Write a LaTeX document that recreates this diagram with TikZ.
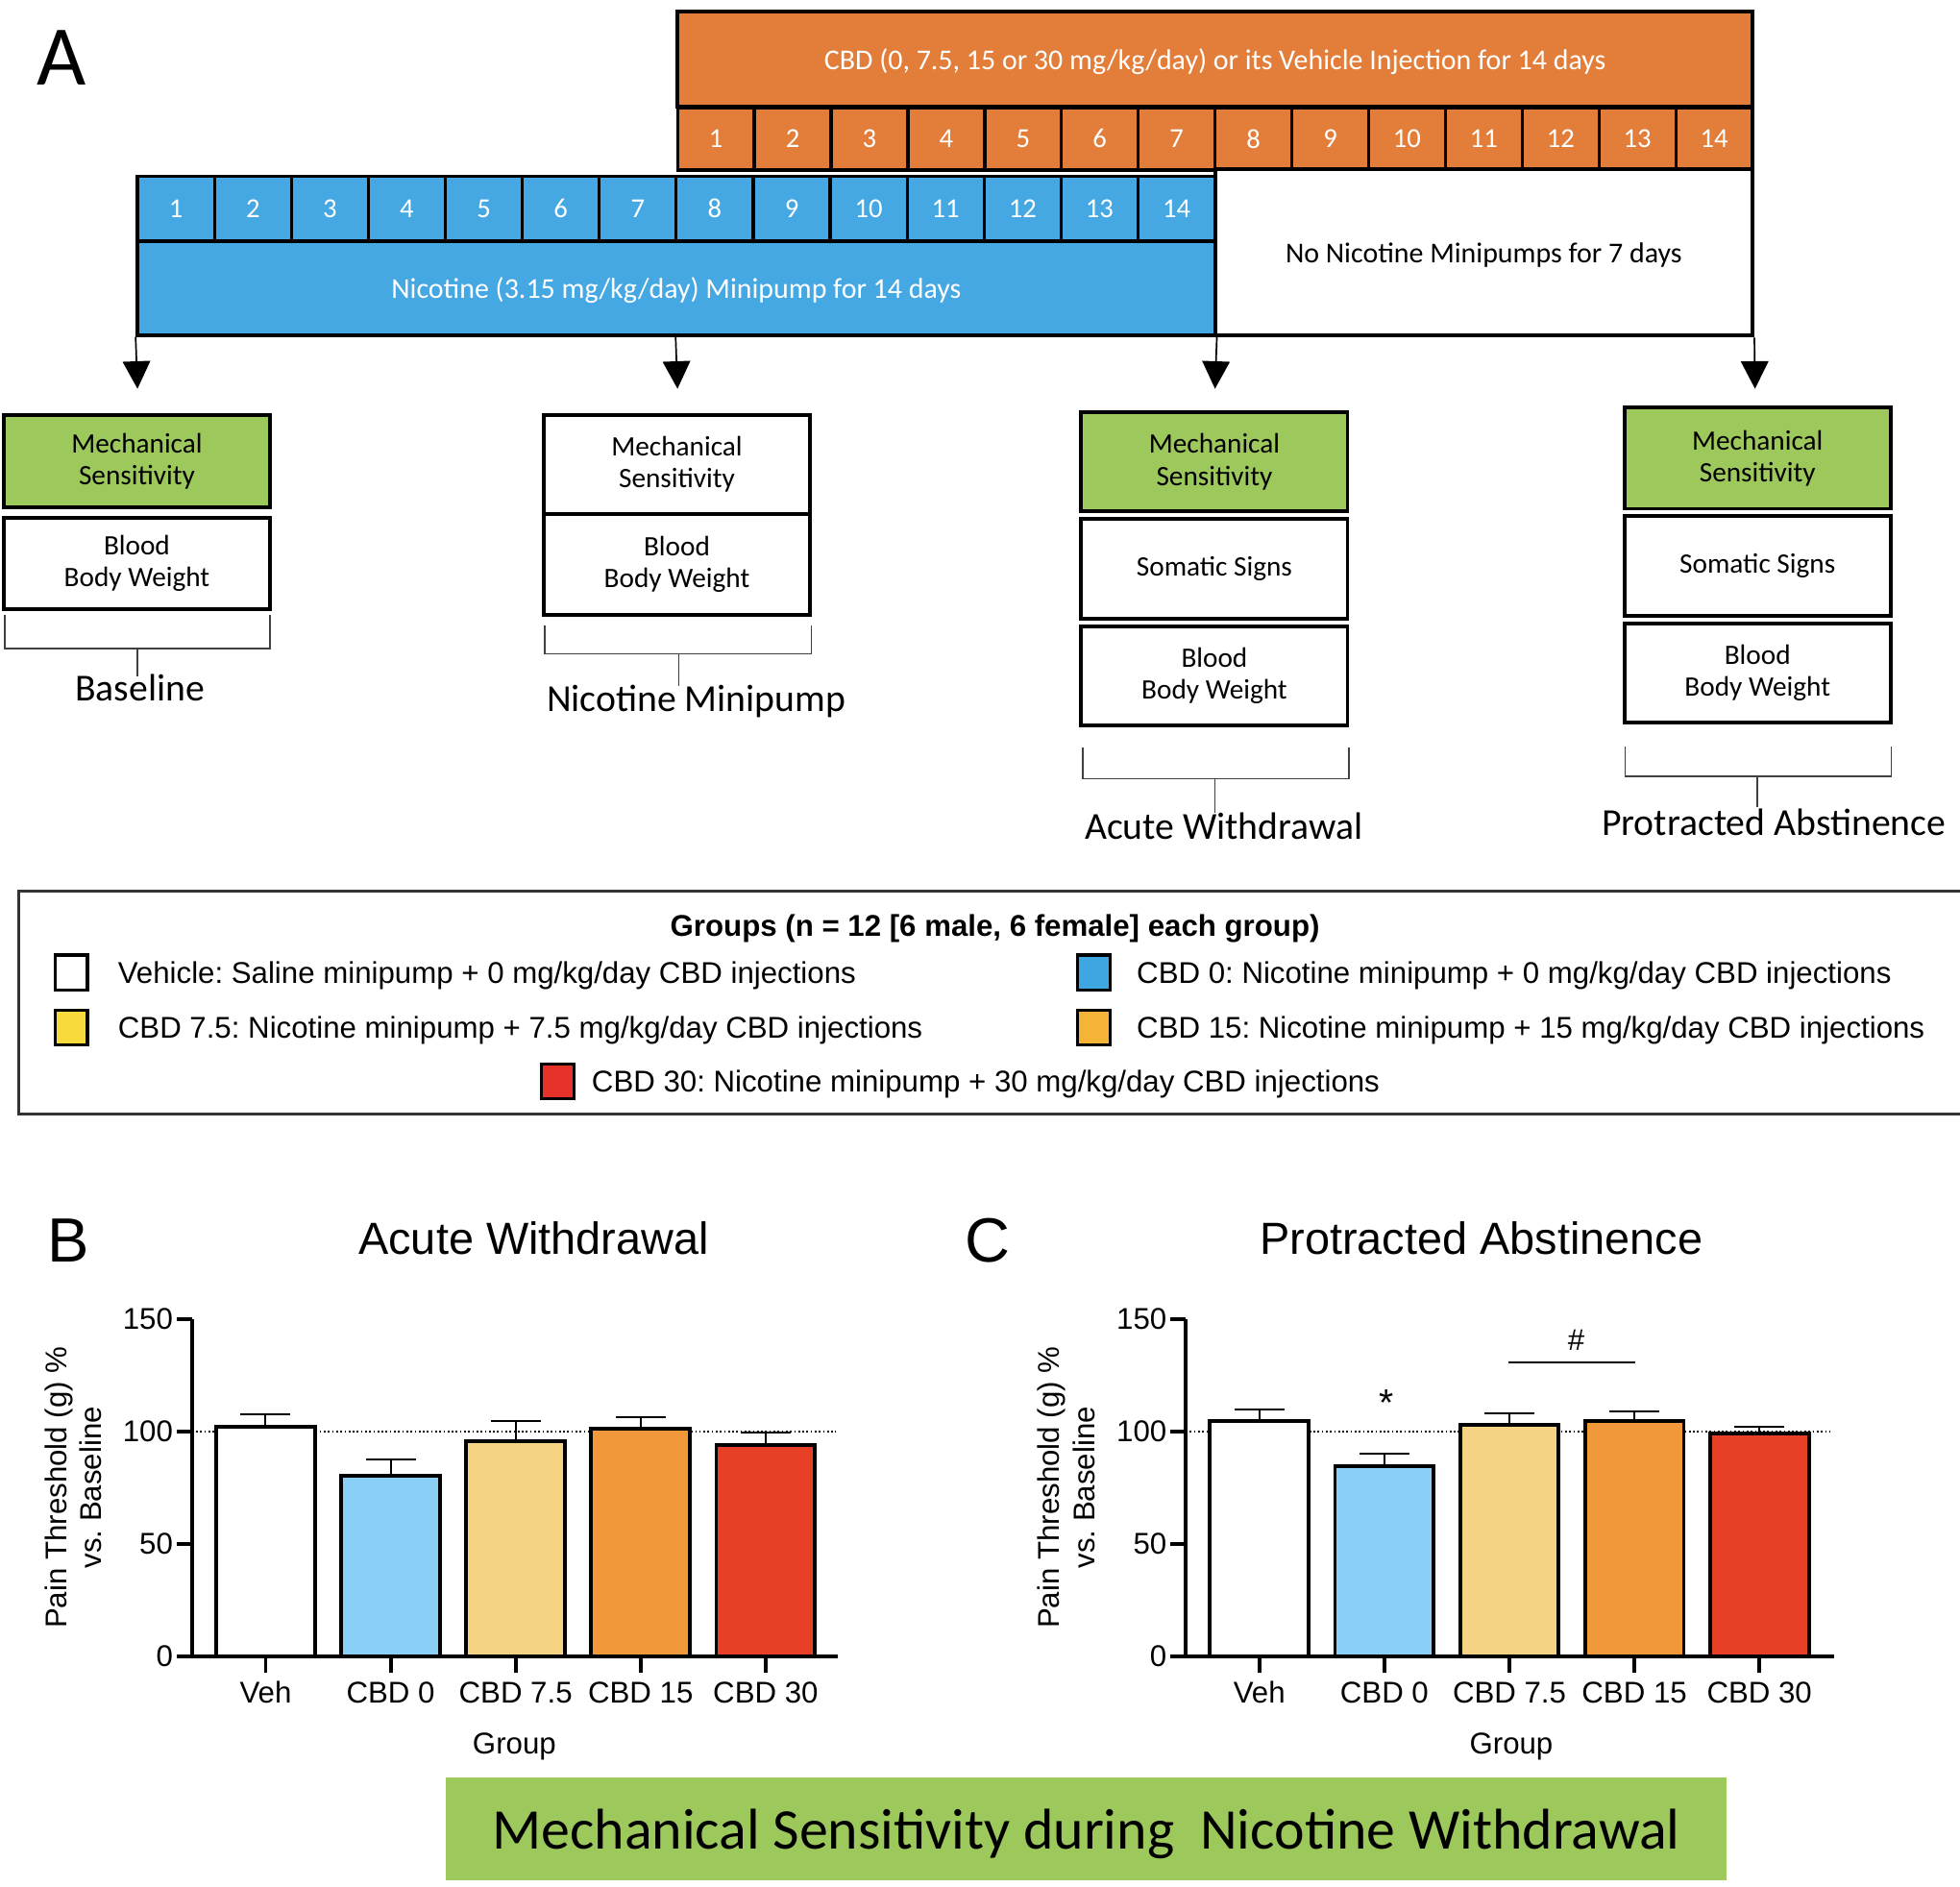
\documentclass[tikz,border=0pt]{standalone}
\usepackage{fontspec}
\setmainfont{Carlito}
\newfontfamily\arialfont{Liberation Sans}
\usetikzlibrary{arrows.meta,positioning}
\frenchspacing
\definecolor{cbdorange}{RGB}{226,126,58}
\definecolor{nicblue}{RGB}{70,168,226}
\definecolor{msgreen}{RGB}{157,201,92}
\definecolor{vehwhite}{RGB}{255,255,255}
\definecolor{cbdzero}{RGB}{137,207,246}
\definecolor{cbdlow}{RGB}{245,211,130}
\definecolor{cbdmid}{RGB}{240,152,58}
\definecolor{cbdhigh}{RGB}{232,64,38}
\definecolor{legblue}{RGB}{62,166,224}
\definecolor{legyellow}{RGB}{247,218,60}
\definecolor{legorange}{RGB}{245,180,55}
\definecolor{legred}{RGB}{230,50,40}
\newcommand{\fsz}[2]{\fontsize{#1}{#2}\selectfont}
\tikzset{
  daycell/.style={draw=black, line width=2.5pt, minimum width=61.4pt, minimum height=50pt, inner sep=0pt, text=white, font=\fsz{22}{26}},
  period/.style={draw=black, line width=3pt, inner sep=0pt, text=white, text depth=0pt, font=\fsz{23}{26}},
  testbox/.style={draw=black, line width=3pt, fill=white, minimum width=213pt, inner sep=0pt, align=center, font=\fsz{22.5}{25.5}},
  brk/.style={line width=1.3pt, black!75},
  phase/.style={font=\fsz{30.5}{34}},
  legsq/.style={draw=black, line width=2.5pt, minimum width=26pt, minimum height=28pt, inner sep=0pt},
  legtxt/.style={font=\arialfont\fsz{24}{28}, inner sep=0pt, text depth=0pt},
  chtxt/.style={font=\arialfont\fsz{24}{28}},
  axisln/.style={line width=3pt},
  barln/.style={line width=3pt},
  errln/.style={line width=1.5pt}
}
\begin{document}
\begin{tikzpicture}[x=1pt, y=-1pt, >={Triangle[width=22pt,length=22pt]}]
\useasboundingbox (0,0) rectangle (1568,1509);
% panel A: time line
\node[font=\fsz{68}{70}] (lblA) at (49,46) {A};
\node[period, fill=cbdorange, minimum width=860pt, minimum height=76pt] (cbdbar) at (972,47) {CBD (0, 7.5, 15 or 30 mg/kg/day) or its Vehicle Injection for 14 days};
\foreach \i in {1,...,14}
  \node[daycell, fill=cbdorange] (cbd\i) at ({542+(\i-0.5)*61.43},111) {\i};
\foreach \i in {1,...,14}
  \node[daycell, fill=nicblue, minimum width=61.6pt, minimum height=52pt] (nic\i) at ({110+(\i-0.5)*61.57},167) {\i};
\node[period, fill=nicblue, minimum width=862pt, minimum height=75pt] (nicbar) at (541,230.5) {Nicotine (3.15 mg/kg/day) Minipump for 14 days};
\node[period, fill=white, text=black, minimum width=430pt, minimum height=133pt] (nonic) at (1187,202) {No Nicotine Minipumps for 7 days};
\coordinate (t1) at (110,311);
\coordinate (t2) at (542,311);
\coordinate (t3) at (972,311);
\coordinate (t4) at (1404,311);
\draw[->, line width=1.3pt] (nicbar.south west) -- (t1);
\draw[->, line width=1.3pt] (nicbar.south -| cbdbar.west) -- (t2);
\draw[->, line width=1.3pt] (nicbar.south east) -- (t3);
\draw[->, line width=1.3pt] (nonic.south east) -- (t4);
% test boxes
\node[testbox, fill=msgreen, minimum height=74pt] (ms1) at (109.5,369) {Mechanical\\Sensitivity};
\node[testbox, minimum height=73pt] (bw1) at (109.5,450.5) {Blood\\Body Weight};
\node[testbox, minimum height=79pt] (ms2) at (541.5,371.5) {Mechanical\\Sensitivity};
\node[testbox, minimum height=81pt] (bw2) at (541.5,451.5) {Blood\\Body Weight};
\node[testbox, fill=msgreen, minimum height=79pt] (ms3) at (971.5,369.5) {Mechanical\\Sensitivity};
\node[testbox, minimum height=80pt] (ss3) at (971.5,455) {Somatic Signs};
\node[testbox, minimum height=79pt] (bw3) at (971.5,540.5) {Blood\\Body Weight};
\node[testbox, fill=msgreen, minimum height=81pt] (ms4) at (1406,366.5) {Mechanical\\Sensitivity};
\node[testbox, minimum height=80pt] (ss4) at (1406,453) {Somatic Signs};
\node[testbox, minimum height=79pt] (bw4) at (1406,538.5) {Blood\\Body Weight};
% brackets
\draw[brk] (4,492) |- (216,519) -- (216,492);
\draw[brk] (110,519) -- (110,541);
\draw[brk] (436,500) |- (649,523) -- (649,500);
\draw[brk] (543,523) -- (543,549);
\draw[brk] (866,598) |- (1079,623) -- (1079,598);
\draw[brk] (972,623) -- (972,650);
\draw[brk] (1300,597) |- (1513,621) -- (1513,597);
\draw[brk] (1406,621) -- (1406,646);
\node[phase] (ph1) at (112,550) {Baseline};
\node[phase] (ph2) at (557,561) {Nicotine Minipump};
\node[phase] (ph3) at (979,661) {Acute Withdrawal};
\node[phase] (ph4) at (1419,658) {Protracted Abstinence};
% legend
\draw[line width=2pt, black!80] (15,713) rectangle (1620,891);
\node[font=\arialfont\bfseries\fsz{24}{28}, text depth=0pt] (legttl) at (796,740) {Groups (n = 12 [6 male, 6 female] each group)};
\node[legsq, fill=white] (sqveh) at (57,778) {};
\node[legtxt, right=23pt of sqveh] (txveh) {Vehicle: Saline minipump + 0 mg/kg/day CBD injections};
\node[legsq, fill=legyellow] (sqlow) at (57,822) {};
\node[legtxt, right=23pt of sqlow] (txlow) {CBD 7.5: Nicotine minipump + 7.5 mg/kg/day CBD injections};
\node[legsq, fill=legblue] (sqzero) at (875,778) {};
\node[legtxt, right=20pt of sqzero] (txzero) {CBD 0: Nicotine minipump + 0 mg/kg/day CBD injections};
\node[legsq, fill=legorange] (sqmid) at (875,822) {};
\node[legtxt, right=20pt of sqmid] (txmid) {CBD 15: Nicotine minipump + 15 mg/kg/day CBD injections};
\node[legsq, fill=legred] (sqhigh) at (446,865) {};
\node[legtxt, right=13pt of sqhigh] (txhigh) {CBD 30: Nicotine minipump + 30 mg/kg/day CBD injections};
% panel B
\node[font=\arialfont\fsz{50}{52}] (lblB) at (55,992) {B};
\begin{scope}[shift={(153.5,1325)}, y=1.8pt]
\node[font=\arialfont\fsz{36}{38}] (ttlB) at (273.5,186) {Acute Withdrawal};
\draw[dotted, line width=1.3pt] (0,100) -- (515,100);
\foreach \vv/\ee/\col/\grp [count=\k from 0] in {102/107.7/vehwhite/Veh, 80.2/87.4/cbdzero/CBD 0, 95.6/104.4/cbdlow/CBD 7.5, 101/106.2/cbdmid/CBD 15, 94/99.5/cbdhigh/CBD 30} {
  \draw[errln] ({59+100*\k},\vv) -- ({59+100*\k},\ee) ({39+100*\k},\ee) -- ({79+100*\k},\ee);
  \draw[barln, fill=\col] ({19.5+100*\k},0) rectangle ({98.5+100*\k},\vv);
  \draw[axisln] ({59+100*\k},0) -- ({59+100*\k},-7.2);
  \node[chtxt] (xB\k) at ({59+100*\k},-16) {\grp};
}
\draw[axisln] (-11.5,0) -- (516.5,0);
\draw[axisln] (0,0) -- (0,150);
\foreach \tk in {0,50,100,150} {
  \draw[axisln] (-12,\tk) -- (0,\tk);
  \node[chtxt, anchor=east, inner sep=0pt] (yB\tk) at (-15,\tk) {\tk};
}
\node[chtxt, rotate=90, align=center] (ylB) at (-95,75) {Pain Threshold (g) \%\\vs. Baseline};
\node[chtxt] (grpB) at (258,-40) {Group};
\end{scope}
% panel C
\node[font=\arialfont\fsz{50}{52}] (lblC) at (790,992) {C};
\begin{scope}[shift={(948.5,1325)}, y=1.8pt]
\node[font=\arialfont\fsz{36}{38}] (ttlC) at (236.5,186) {Protracted Abstinence};
\draw[dotted, line width=1.3pt] (0,100) -- (516,100);
\foreach \vv/\ee/\col/\grp [count=\k from 0] in {104.4/109.8/vehwhite/Veh, 84.6/90.2/cbdzero/CBD 0, 103/108/cbdlow/CBD 7.5, 104.5/109/cbdmid/CBD 15, 99/102/cbdhigh/CBD 30} {
  \draw[errln] ({59+100*\k},\vv) -- ({59+100*\k},\ee) ({39+100*\k},\ee) -- ({79+100*\k},\ee);
  \draw[barln, fill=\col] ({19.5+100*\k},0) rectangle ({98.5+100*\k},\vv);
  \draw[axisln] ({59+100*\k},0) -- ({59+100*\k},-7.2);
  \node[chtxt] (xC\k) at ({59+100*\k},-16) {\grp};
}
\draw[axisln] (-11.5,0) -- (518.5,0);
\draw[axisln] (0,0) -- (0,150);
\foreach \tk in {0,50,100,150} {
  \draw[axisln] (-12,\tk) -- (0,\tk);
  \node[chtxt, anchor=east, inner sep=0pt] (yC\tk) at (-15,\tk) {\tk};
}
\node[chtxt, rotate=90, align=center] (ylC) at (-95.5,75) {Pain Threshold (g) \%\\vs. Baseline};
\node[chtxt] (grpC) at (260.5,-40) {Group};
\node[font=\arialfont\fsz{30}{32}] (star) at (160.5,112.5) {*};
\node[chtxt] (hash) at (312.5,140.5) {\#};
\draw[errln] (258.5,130.5) -- (359.5,130.5);
\end{scope}
% bottom banner
\node[fill=msgreen, minimum width=1024pt, minimum height=82pt, text depth=0pt, font=\fsz{46}{50}] (banner) at (869,1463) {Mechanical Sensitivity during\ \ Nicotine Withdrawal};
\end{tikzpicture}
\end{document}
